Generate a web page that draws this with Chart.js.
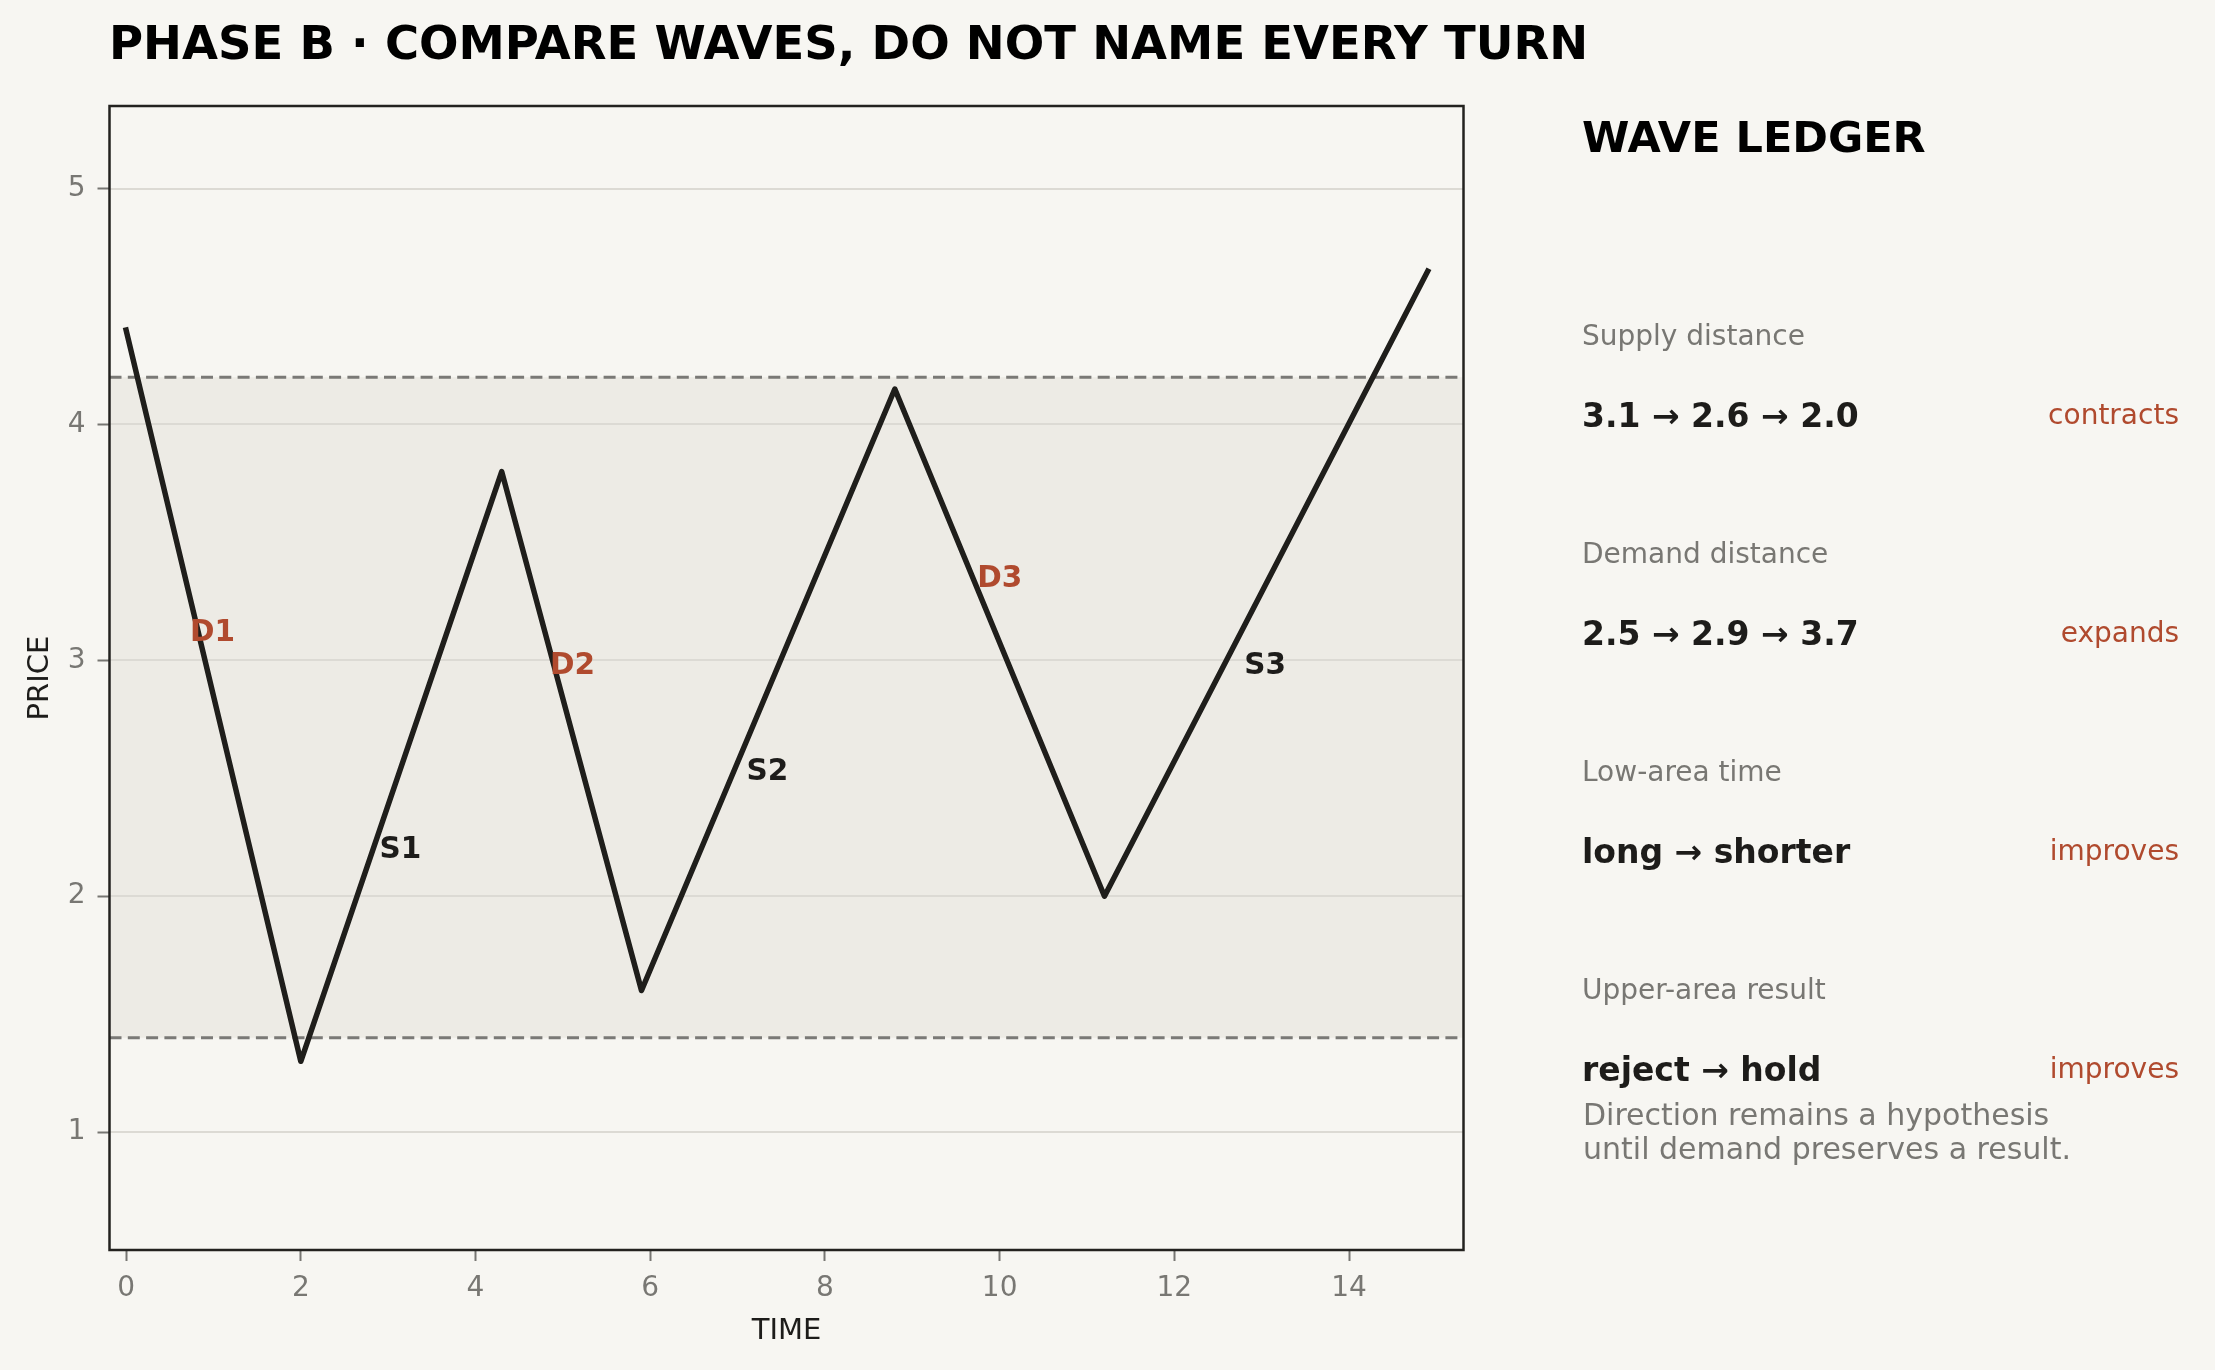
<!DOCTYPE html>
<html>
<head>
<meta charset="utf-8">
<script src="https://cdn.jsdelivr.net/npm/chart.js@4.4.1/dist/chart.umd.min.js"></script>
<style>
  html, body { margin: 0; padding: 0; background: #f7f6f2; }
  body { width: 2215px; height: 1370px; position: relative; overflow: hidden; font-family: "DejaVu Sans", sans-serif; }
  #c { position: absolute; left: 0; top: 0; }
  .t { position: absolute; line-height: 1; white-space: nowrap; transform: translateY(-50%); }
  .title { font-weight: bold; font-size: 46.5px; color: #000; }
  .title2 { font-weight: bold; font-size: 43px; color: #000; }
  .lab { font-size: 28px; color: #787773; }
  .val { font-weight: bold; font-size: 33px; color: #1d1c1a; }
  .verdict { font-size: 28px; color: #b04a2e; text-align: right; }
  .note { font-size: 30px; color: #787773; line-height: 34px; transform: none; }
</style>
</head>
<body>
<canvas id="c" width="2215" height="1370"></canvas>
<div class="t title" style="left:109px; top:43px;">PHASE B · COMPARE WAVES, DO NOT NAME EVERY TURN</div>
<div class="t title2" style="left:1582px; top:137px;">WAVE LEDGER</div>
<div id="ledger"></div>
<div class="t note" style="left:1583px; top:1098px;">Direction remains a hypothesis<br>until demand preserves a result.</div>
<script>
// ---- data ----
const times  = [0, 2.0, 4.3, 5.9, 8.8, 11.2, 14.9];
const prices = [4.4, 1.3, 3.8, 1.6, 4.15, 2.0, 4.65];

const waveNames  = ["D1", "S1", "D2", "S2", "D3", "S3"];
const waveLabelX = [0.99, 3.14, 5.11, 7.34, 10.0, 13.04];
const waveLabelY = [3.115, 2.195, 2.975, 2.525, 3.345, 2.975];
const waveKinds  = ["demand", "supply", "demand", "supply", "demand", "supply"];

const rangeTop = 4.2;
const rangeBottom = 1.4;

const xTicks = [0, 2, 4, 6, 8, 10, 12, 14];
const yTicks = [1, 2, 3, 4, 5];

const ledgerLabels   = ["Supply distance", "Demand distance", "Low-area time", "Upper-area result"];
const ledgerValues   = ["3.1 \u2192 2.6 \u2192 2.0", "2.5 \u2192 2.9 \u2192 3.7", "long \u2192 shorter", "reject \u2192 hold"];
const ledgerVerdicts = ["contracts", "expands", "improves", "improves"];

// ---- ledger (HTML text) ----
const ledger = document.getElementById('ledger');
const rowY0 = 336, rowStep = 218;
ledgerLabels.forEach((lab, i) => {
  const y = rowY0 + i * rowStep;
  ledger.insertAdjacentHTML('beforeend',
    `<div class="t lab" style="left:1582px; top:${y}px;">${lab}</div>` +
    `<div class="t val" style="left:1582px; top:${y + 79}px;">${ledgerValues[i]}</div>` +
    `<div class="t verdict" style="right:${2215 - 2179}px; top:${y + 79}px;">${ledgerVerdicts[i]}</div>`);
});

// ---- plugins ----
const bandPlugin = {
  id: 'band',
  beforeDatasetsDraw(chart) {
    const {ctx, chartArea: a, scales: {y}} = chart;
    const yt = y.getPixelForValue(rangeTop), yb = y.getPixelForValue(rangeBottom);
    ctx.save();
    ctx.fillStyle = '#edebe5';
    ctx.fillRect(a.left, yt, a.right - a.left, yb - yt);
    ctx.strokeStyle = '#dcdad4';
    ctx.lineWidth = 2;
    yTicks.forEach(v => {
      const py = Math.round(y.getPixelForValue(v));
      ctx.beginPath(); ctx.moveTo(a.left, py); ctx.lineTo(a.right, py); ctx.stroke();
    });
    ctx.setLineDash([12, 6.3]);
    ctx.strokeStyle = '#7a7976';
    ctx.lineWidth = 3;
    [yt, yb].forEach(py => {
      ctx.beginPath(); ctx.moveTo(a.left, py); ctx.lineTo(a.right, py); ctx.stroke();
    });
    ctx.restore();
  },
  afterDatasetsDraw(chart) {
    const {ctx, scales: {x, y}} = chart;
    ctx.save();
    ctx.font = 'bold 29.5px "DejaVu Sans"';
    ctx.textAlign = 'center';
    ctx.textBaseline = 'middle';
    waveNames.forEach((n, i) => {
      ctx.fillStyle = waveKinds[i] === 'demand' ? '#b04a2e' : '#1d1c1a';
      ctx.fillText(n, x.getPixelForValue(waveLabelX[i]), y.getPixelForValue(waveLabelY[i]));
    });
    ctx.restore();
  },
  afterDraw(chart) {
    const {ctx, chartArea: a} = chart;
    ctx.save();
    ctx.strokeStyle = '#23221f';
    ctx.lineWidth = 2.5;
    ctx.strokeRect(a.left, a.top, a.right - a.left, a.bottom - a.top);
    ctx.font = '29px "DejaVu Sans"';
    ctx.fillStyle = '#1d1c1a';
    ctx.textAlign = 'center';
    ctx.textBaseline = 'middle';
    ctx.fillText('TIME', (a.left + a.right) / 2, 1331);
    ctx.translate(40, (a.top + a.bottom) / 2);
    ctx.rotate(-Math.PI / 2);
    ctx.fillText('PRICE', 0, 0);
    ctx.restore();
  }
};

new Chart(document.getElementById('c'), {
  type: 'line',
  data: {
    datasets: [{
      data: times.map((t, i) => ({x: t, y: prices[i]})),
      borderColor: '#1f1e1b',
      borderWidth: 5.5,
      pointRadius: 0,
      tension: 0,
      fill: false,
      borderJoinStyle: 'round',
      borderCapStyle: 'square'
    }]
  },
  options: {
    responsive: false,
    animation: false,
    events: [],
    layout: { padding: { top: 106, right: 2215 - 1463.5, left: 0, bottom: 0 } },
    plugins: { legend: { display: false }, tooltip: { enabled: false } },
    scales: {
      x: {
        type: 'linear', min: -0.19, max: 15.31,
        afterBuildTicks: s => { s.ticks = xTicks.map(v => ({value: v})); },
        afterFit: s => { s.height = 1370 - 1250; },
        border: { display: false },
        grid: { drawOnChartArea: false, drawTicks: true, tickLength: 11, tickColor: '#777672', tickWidth: 2 },
        ticks: { color: '#787773', font: { family: 'DejaVu Sans', size: 28 }, padding: 11, maxRotation: 0, autoSkip: false }
      },
      y: {
        type: 'linear', min: 0.5, max: 5.35,
        afterBuildTicks: s => { s.ticks = yTicks.map(v => ({value: v})); },
        afterFit: s => { s.width = 109.5; },
        border: { display: false },
        grid: { drawOnChartArea: false, drawTicks: true, tickLength: 12, tickColor: '#777672', tickWidth: 2 },
        ticks: { color: '#787773', font: { family: 'DejaVu Sans', size: 28 }, padding: 12, autoSkip: false }
      }
    }
  },
  plugins: [bandPlugin]
});
</script>
</body>
</html>
